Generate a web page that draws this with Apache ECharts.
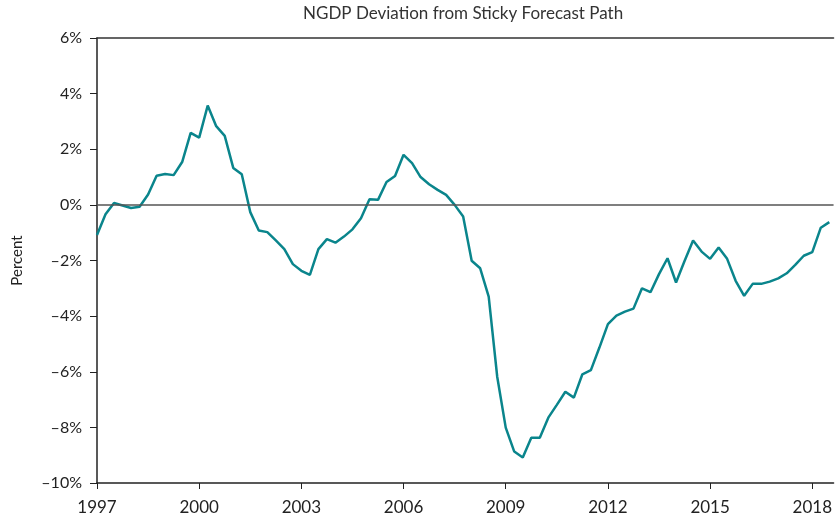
<!DOCTYPE html>
<html>
<head>
<meta charset="utf-8">
<script src="https://cdn.jsdelivr.net/npm/echarts@6/dist/echarts.min.js"></script>
<style>
  html, body { margin: 0; padding: 0; background: #fff; }
  #chart { width: 835px; height: 519px; }
</style>
</head>
<body>
<div id="chart"></div>
<script>
// quarterly, starting 1997Q1
var startYear = 1997;
var deviation = [
  -1.08, -0.34, 0.07, -0.02, -0.11, -0.07, 0.37, 1.05, 1.11, 1.07,
  1.54, 2.59, 2.42, 3.57, 2.83, 2.48, 1.33, 1.10, -0.26, -0.92,
  -0.98, -1.28, -1.59, -2.13, -2.37, -2.52, -1.59, -1.23, -1.36, -1.14,
  -0.88, -0.48, 0.20, 0.18, 0.82, 1.04, 1.80, 1.50, 1.00, 0.74,
  0.54, 0.36, 0.00, -0.42, -2.01, -2.28, -3.30, -6.18, -8.01, -8.87,
  -9.08, -8.37, -8.37, -7.65, -7.19, -6.72, -6.93, -6.09, -5.94, -5.13,
  -4.29, -3.98, -3.84, -3.73, -3.00, -3.14, -2.49, -1.92, -2.79, -2.02,
  -1.28, -1.68, -1.94, -1.53, -1.94, -2.73, -3.27, -2.84, -2.84, -2.76,
  -2.64, -2.46, -2.16, -1.83, -1.70, -0.82, -0.62
];
var yearTicks = [1997, 2000, 2003, 2006, 2009, 2012, 2015, 2018];

var points = deviation.map(function (v, i) {
  return [startYear + i / 4, v];
});

var font = "Lato, 'Open Sans', sans-serif";
var chart = echarts.init(document.getElementById("chart"));
chart.setOption({
  animation: false,
  title: {
    text: "NGDP Deviation from Sticky Forecast Path",
    left: 303,
    top: 5,
    padding: 0,
    textStyle: { fontFamily: font, fontSize: 17, fontWeight: "normal", color: "#333" }
  },
  grid: { left: 97, right: 0, top: 38, bottom: 36 },
  xAxis: [
    {
      type: "value",
      min: 1997,
      max: 2018.625,
      interval: 3,
      axisLine: { onZero: false, lineStyle: { color: "#222", width: 1.5 } },
      axisTick: { show: true, length: 6, lineStyle: { color: "#222" } },
      axisLabel: {
        fontFamily: font, fontSize: 17, color: "#222", margin: 16,
        verticalAlign: "top",
        showMaxLabel: false,
        formatter: function (v) { return yearTicks.indexOf(v) >= 0 ? String(v) : ""; }
      },
      splitLine: { show: false }
    },
    {
      type: "value",
      position: "top",
      min: 1997,
      max: 2018.625,
      axisLine: { show: true, onZero: false, lineStyle: { color: "#333", width: 1.5 } },
      axisTick: { show: false },
      axisLabel: { show: false },
      splitLine: { show: false }
    }
  ],
  yAxis: {
    type: "value",
    min: -10,
    max: 6,
    interval: 2,
    name: "Percent",
    nameLocation: "middle",
    nameGap: 72,
    nameTextStyle: { fontFamily: font, fontSize: 15, color: "#222" },
    axisLine: { show: true, lineStyle: { color: "#222", width: 1.5 } },
    axisTick: { show: true, length: 7, lineStyle: { color: "#222" } },
    axisLabel: {
      fontFamily: font, fontSize: 16, color: "#222", margin: 15,
      formatter: function (v) { return String(v).replace("-", "\u2013") + "%"; }
    },
    splitLine: { show: false }
  },
  series: [
    {
      type: "line",
      data: points,
      showSymbol: false,
      lineStyle: { color: "#0a858c", width: 2.5 },
      itemStyle: { color: "#0a858c" },
      markLine: {
        silent: true,
        symbol: "none",
        label: { show: false },
        lineStyle: { color: "#555", width: 1.5, type: "solid" },
        data: [{ yAxis: 0 }]
      },
      z: 3
    }
  ]
});
</script>
</body>
</html>
